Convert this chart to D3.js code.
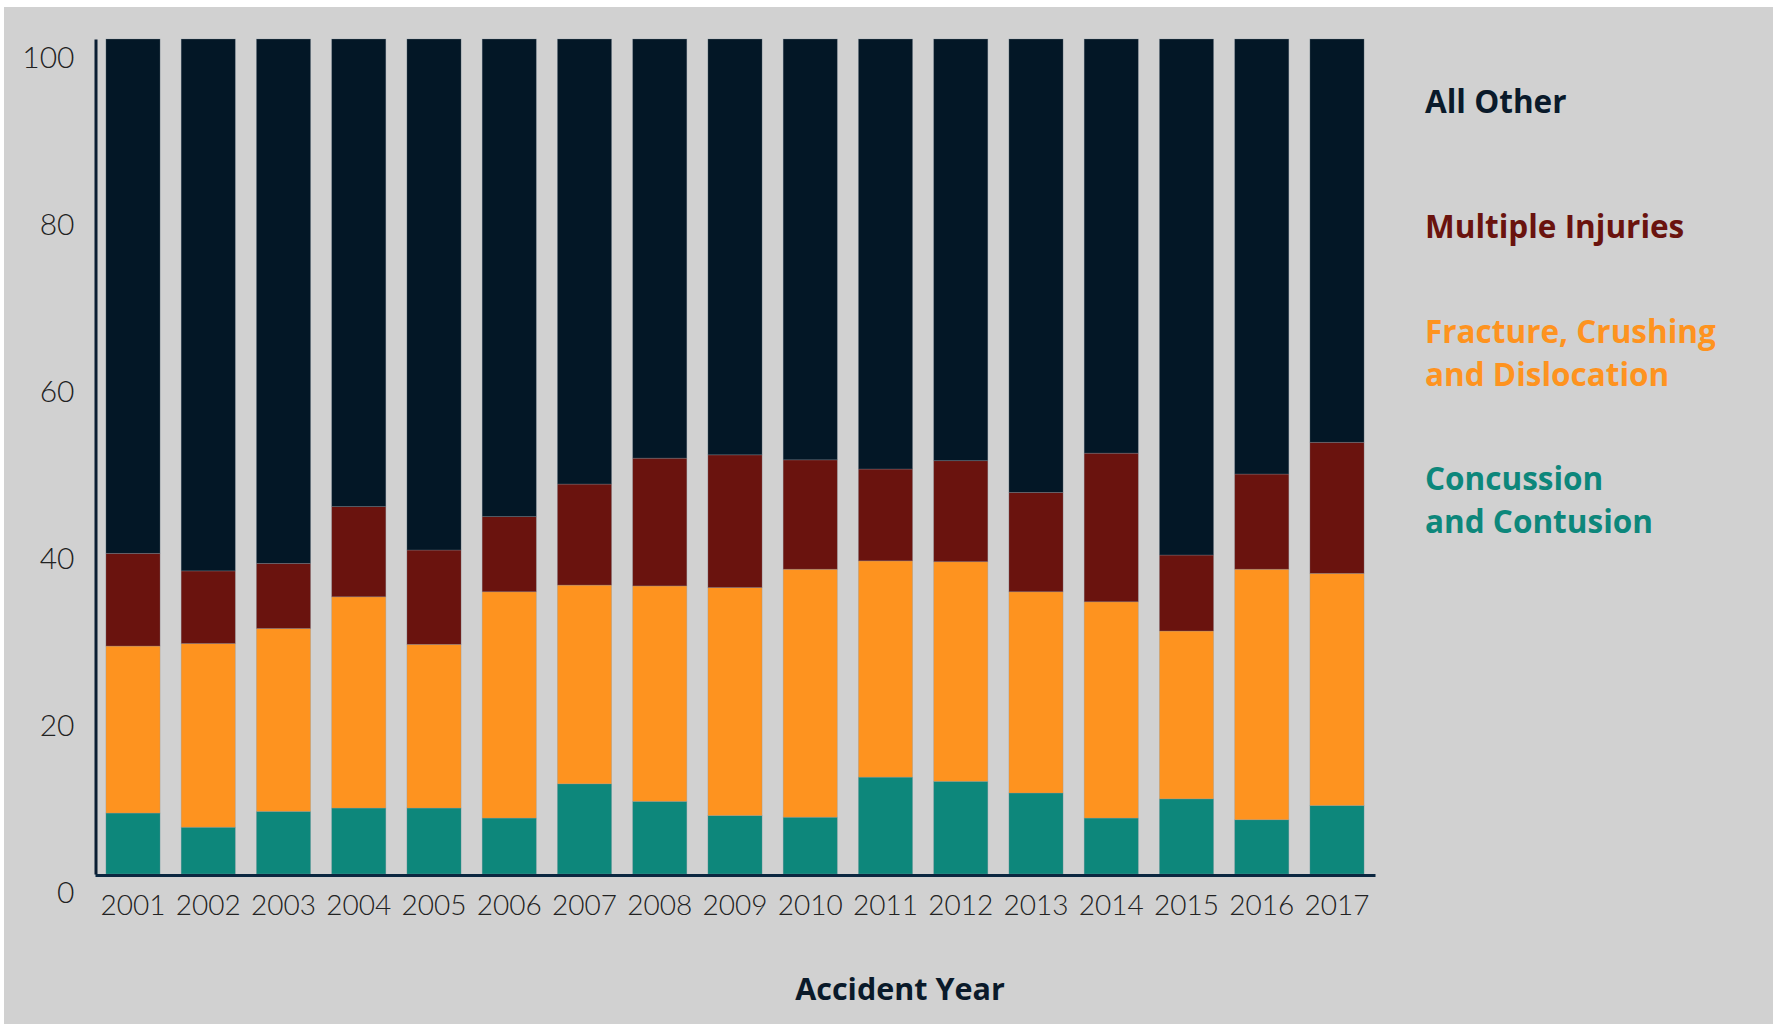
<!DOCTYPE html>
<html>
<head>
<meta charset="utf-8">
<script src="https://cdn.jsdelivr.net/npm/d3@7"></script>
<style>
  body { margin: 0; background: #ffffff; }
  svg { display: block; }
  text { font-variant-ligatures: none; }
  .tick text { font-family: Lato, "Open Sans", sans-serif; font-weight: 300; fill: #222; }
  .legend text, .xtitle { font-family: "Open Sans", Lato, sans-serif; font-weight: 700; }
</style>
</head>
<body>
<svg width="1773" height="1024"></svg>
<script>
var years = ["2001", "2002", "2003", "2004", "2005", "2006", "2007", "2008", "2009",
             "2010", "2011", "2012", "2013", "2014", "2015", "2016", "2017"];

// percent shares
var concussion = [7.3, 5.6, 7.5, 7.9, 7.9, 6.7, 10.8, 8.7, 7.0, 6.8, 11.6, 11.1, 9.7, 6.7, 9.0, 6.5, 8.2];
var fracture   = [20.0, 22.0, 21.9, 25.3, 19.6, 27.1, 23.8, 25.8, 27.3, 29.7, 25.9, 26.3, 24.1, 25.9, 20.1, 30.0, 27.8];
var multiple   = [11.1, 8.7, 7.8, 10.8, 11.3, 9.0, 12.1, 15.3, 15.9, 13.1, 11.0, 12.1, 11.9, 17.8, 9.1, 11.4, 15.7];
var allOther   = [61.6, 63.7, 62.8, 56.0, 61.2, 57.2, 53.3, 50.2, 49.8, 50.4, 51.5, 50.5, 54.3, 49.6, 61.8, 52.1, 48.3];

var yTicks = [0, 20, 40, 60, 80, 100];

var keys = ["concussion", "fracture", "multiple", "allOther"];
var colors = {
    concussion: "#0d877b",
    fracture: "#fe931f",
    multiple: "#6a130e",
    allOther: "#031726"
};
var legendLines = [
    { key: "allOther", lines: ["All Other"], y: 113 },
    { key: "multiple", lines: ["Multiple Injuries"], y: 238 },
    { key: "fracture", lines: ["Fracture, Crushing", "and Dislocation"], y: 343 },
    { key: "concussion", lines: ["Concussion", "and Contusion"], y: 490 }
];

var table = years.map(function(yr, i) {
    return {
        year: yr,
        concussion: concussion[i],
        fracture: fracture[i],
        multiple: multiple[i],
        allOther: allOther[i]
    };
});

var svg = d3.select("svg");

// grey panel, white strip on top and left
svg.append("rect")
    .attr("x", 4)
    .attr("y", 7)
    .attr("width", 1773 - 4)
    .attr("height", 1024 - 7)
    .attr("fill", "#d1d1d1");

var x = d3.scaleBand()
    .domain(years)
    .range([95, 1375])
    .paddingInner(0.28)
    .paddingOuter(0.145);

var y = d3.scaleLinear()
    .domain([0, 100])
    .range([874, 39]);

var series = d3.stack().keys(keys)(table);

svg.append("g")
    .attr("class", "bars")
    .selectAll("g")
    .data(series)
    .enter().append("g")
    .attr("fill", function(d) { return colors[d.key]; })
    .selectAll("rect")
    .data(function(d) { return d; })
    .enter().append("rect")
    .attr("x", function(d) { return x(d.data.year); })
    .attr("y", function(d) { return y(d[1]); })
    .attr("width", x.bandwidth())
    .attr("height", function(d) { return y(d[0]) - y(d[1]); })
    .attr("stroke", "#8a98a4")
    .attr("stroke-opacity", 0.35)
    .attr("stroke-width", 0.8);

// y axis
var yAxis = svg.append("g")
    .attr("transform", "translate(95.5,0)")
    .call(d3.axisLeft(y).tickValues(yTicks).tickSize(0).tickSizeOuter(0).tickPadding(21));
yAxis.select(".domain").attr("stroke", "#0a1e33").attr("stroke-width", 3);
yAxis.selectAll("text")
    .attr("dy", 28.5)
    .style("font-size", "30px");

// x axis
var xAxis = svg.append("g")
    .attr("transform", "translate(0,875)")
    .call(d3.axisBottom(x).tickSize(0).tickSizeOuter(0));
xAxis.select(".domain").attr("stroke", "#0b2740").attr("stroke-width", 3);
xAxis.selectAll("text")
    .attr("y", 0)
    .attr("dy", 40)
    .style("font-size", "28px");

svg.append("text")
    .attr("class", "xtitle")
    .attr("x", 900)
    .attr("y", 1000)
    .attr("text-anchor", "middle")
    .attr("fill", "#0a1a2a")
    .style("font-size", "30.5px")
    .text("Accident Year");

// legend
var legend = svg.append("g").attr("class", "legend");
legendLines.forEach(function(item) {
    item.lines.forEach(function(line, j) {
        legend.append("text")
            .attr("x", 1425)
            .attr("y", item.y + j * 42.5)
            .attr("fill", colors[item.key] === "#031726" ? "#0a1a2a" : colors[item.key])
            .style("font-size", "31.5px")
            .text(line);
    });
});
</script>
</body>
</html>
